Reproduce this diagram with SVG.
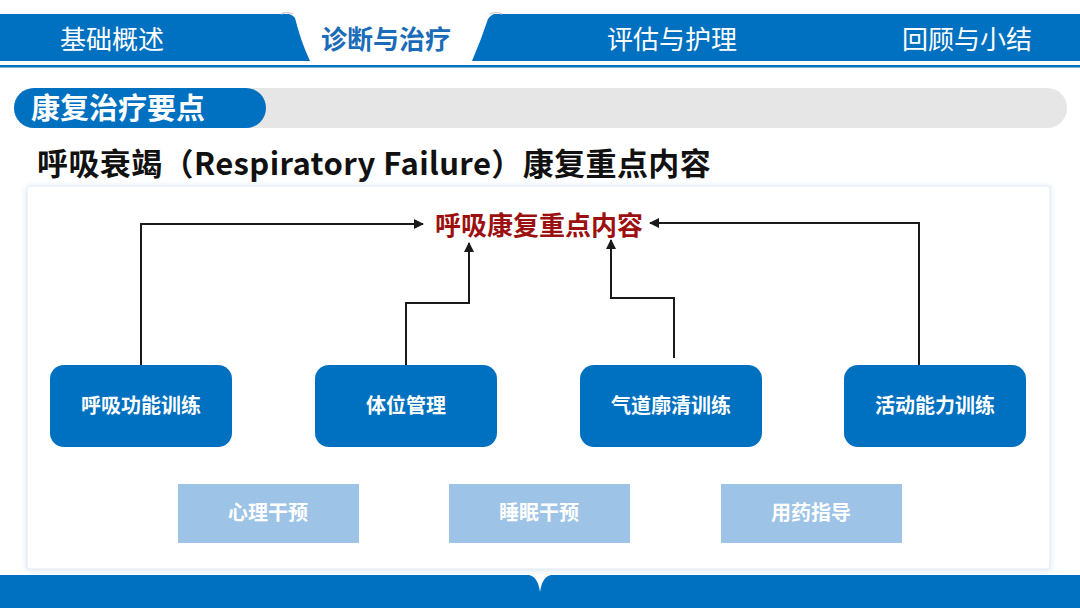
<svg xmlns="http://www.w3.org/2000/svg" width="1080" height="608" viewBox="0 0 1080 608">
<defs>
<style>
.nav{font-family:"Noto Sans CJK SC","Liberation Sans",sans-serif;font-size:26px;fill:#fff;text-anchor:middle}
.navA{font-family:"Noto Sans CJK SC","Liberation Sans",sans-serif;font-size:26px;font-weight:bold;fill:#1a6cb8;text-anchor:middle}
.box{fill:#0070c0}
.lbox{fill:#9dc3e6}
.bt{font-family:"Noto Sans CJK SC","Liberation Sans",sans-serif;font-size:20px;font-weight:bold;fill:#fff;text-anchor:middle}
.con{fill:none;stroke:#1a1a1a;stroke-width:2;marker-end:url(#arr)}
</style>
<marker id="arr" viewBox="0 0 10 10" refX="9" refY="5" markerWidth="5" markerHeight="5" orient="auto" markerUnits="strokeWidth">
<path d="M0,0 L10,5 L0,10 Z" fill="#1a1a1a"/>
</marker>
<filter id="sh" x="-5%" y="-5%" width="110%" height="110%">
<feGaussianBlur stdDeviation="3"/>
</filter>
</defs>
<rect width="1080" height="608" fill="#fff"/>
<!-- top nav -->
<g id="nav">
<rect x="0" y="14" width="1080" height="47" fill="#0070c0"/>
<path d="M282,14 Q290,12 295,18 Q301,42 310,61 L472,61 Q481,40 488,19 Q493,12 501,14 Z" fill="#fff"/>
<path d="M281,14 Q287,11 293,14" fill="none" stroke="#d0d0d0" stroke-width="1.5"/>
<path d="M490,14 Q496,11 502,14" fill="none" stroke="#d0d0d0" stroke-width="1.5"/>
<rect x="0" y="65" width="1080" height="2.5" fill="#0070c0"/>
<text class="nav" x="112" y="49">基础概述</text>
<text class="navA" x="386" y="49">诊断与治疗</text>
<text class="nav" x="672" y="49">评估与护理</text>
<text class="nav" x="967" y="49">回顾与小结</text>
</g>
<!-- section header -->
<g id="section">
<rect x="14" y="88" width="1053" height="40" rx="20" fill="#e6e6e6"/>
<rect x="14" y="88" width="252" height="40" rx="20" fill="#0070c0"/>
<text x="31" y="119" font-family="Noto Sans CJK SC,Liberation Sans,sans-serif" font-size="29" font-weight="bold" fill="#fff">康复治疗要点</text>
</g>
<text id="title" x="37" y="175" font-family="Noto Sans CJK SC,Liberation Sans,sans-serif" font-size="31" font-weight="bold" letter-spacing="0.4" fill="#111">呼吸衰竭（Respiratory Failure）康复重点内容</text>
<!-- panel -->
<g id="panel">
<rect x="26" y="186" width="1025" height="385" rx="3" fill="#dbe9f6" filter="url(#sh)"/>
<rect x="27" y="186" width="1023" height="383" rx="3" fill="#fff" stroke="#e3ebf3" stroke-width="1"/>
</g>
<!-- bottom bar -->
<g id="footer">
<path d="M0,575 L529,575 Q538,577 540,592 Q542,577 551,575 L1080,575 L1080,608 L0,608 Z" fill="#0070c0"/>
</g>
<!-- center label -->
<g id="center">
<text x="539" y="235" font-family="Noto Sans CJK SC,Liberation Sans,sans-serif" font-size="26" font-weight="bold" fill="#9c1010" text-anchor="middle">呼吸康复重点内容</text>
</g>
<!-- connectors -->
<g id="connectors">
<path class="con" d="M141,365 V224 H423"/>
<path class="con" d="M406,365 V303 H469 V243"/>
<path class="con" d="M674,358 V298 H611 V240"/>
<path class="con" d="M919,365 V223 H650"/>
</g>
<!-- main boxes -->
<g id="n1"><rect class="box" x="50" y="365" width="182" height="82" rx="14"/><text class="bt" x="141" y="413">呼吸功能训练</text></g>
<g id="n2"><rect class="box" x="315" y="365" width="182" height="82" rx="14"/><text class="bt" x="406" y="413">体位管理</text></g>
<g id="n3"><rect class="box" x="580" y="365" width="182" height="82" rx="14"/><text class="bt" x="671" y="413">气道廓清训练</text></g>
<g id="n4"><rect class="box" x="844" y="365" width="182" height="82" rx="14"/><text class="bt" x="935" y="413">活动能力训练</text></g>
<!-- light boxes -->
<g id="n5"><rect class="lbox" x="178" y="484" width="181" height="59"/><text class="bt" x="268" y="520">心理干预</text></g>
<g id="n6"><rect class="lbox" x="449" y="484" width="181" height="59"/><text class="bt" x="539" y="520">睡眠干预</text></g>
<g id="n7"><rect class="lbox" x="721" y="484" width="181" height="59"/><text class="bt" x="811" y="520">用药指导</text></g>
</svg>
